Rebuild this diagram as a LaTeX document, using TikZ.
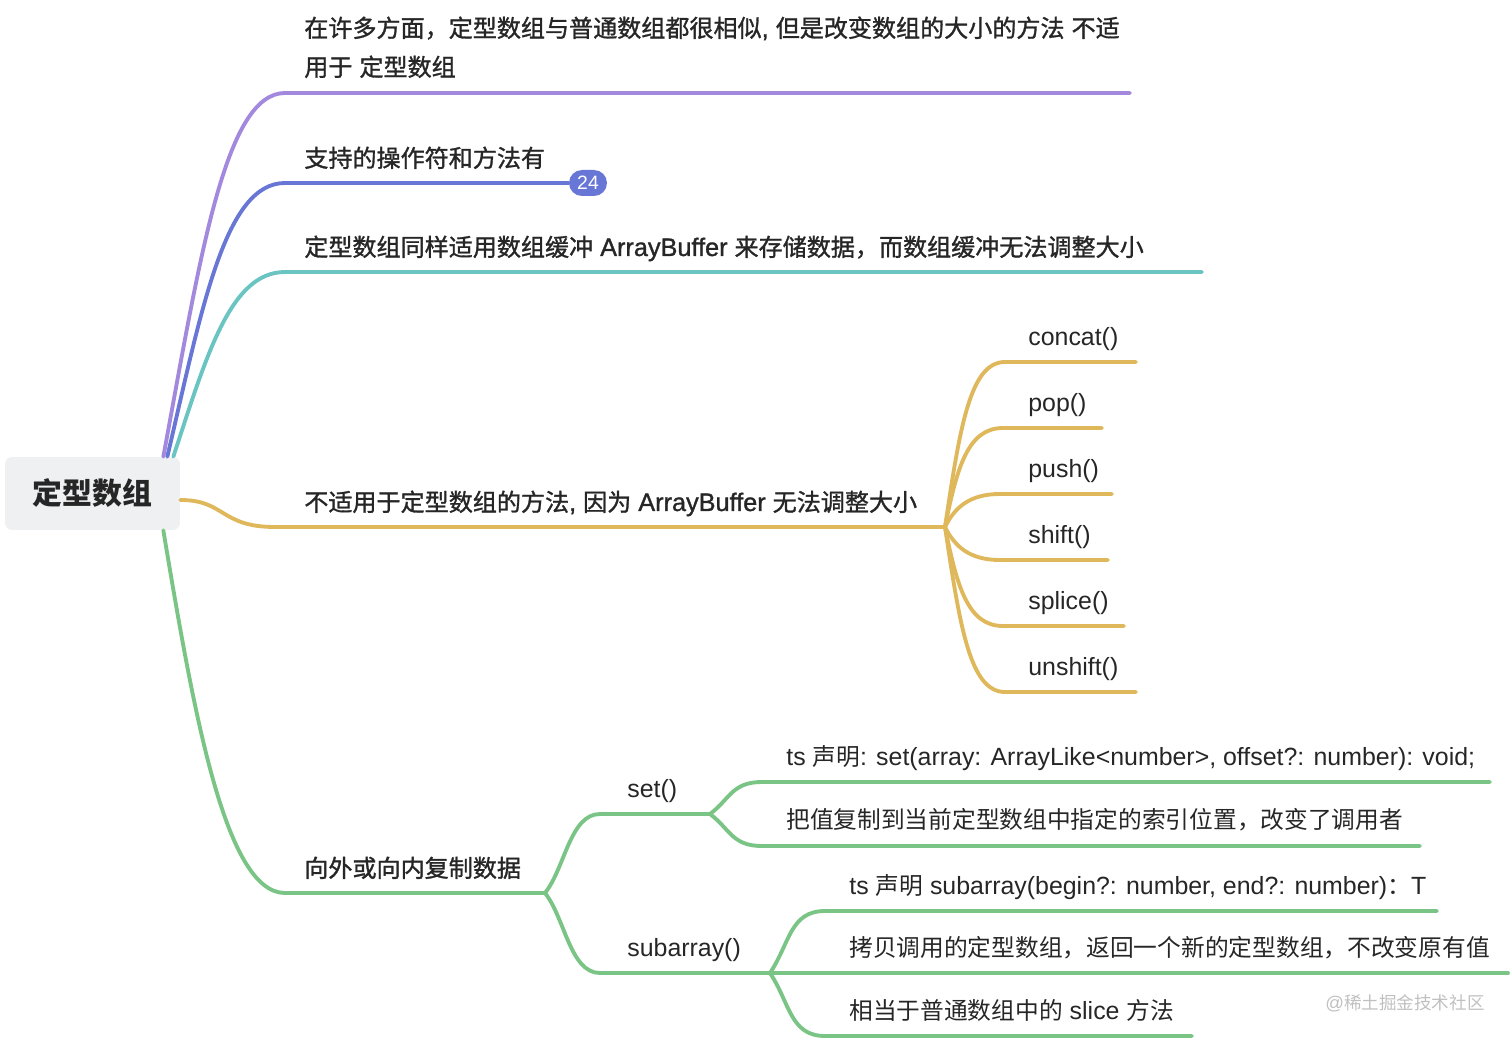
\documentclass[tikz,border=0pt]{standalone}
\usepackage{fontspec}
\setmainfont[Scale=1.05]{Liberation Sans}
\newfontfamily\cjk{Noto Sans CJK SC}
\newfontfamily\cjkmid[FakeBold=1.2]{Noto Sans CJK SC}
\newfontfamily\latmid[FakeBold=1.2,Scale=1.05]{Liberation Sans}
\usepackage{xcolor}
\usepackage{tikz}

\newcommand{\zh}[1]{{\cjk #1}}
\newcommand{\zhm}[1]{{\cjkmid #1}}

\definecolor{mmtext}{RGB}{38,38,38}
\definecolor{mmgray}{RGB}{238,240,241}
\definecolor{mmpurple}{RGB}{163,137,222}
\definecolor{mmblue}{RGB}{104,118,214}
\definecolor{mmteal}{RGB}{106,196,194}
\definecolor{mmgold}{RGB}{224,184,92}
\definecolor{mmgreen}{RGB}{122,196,134}
\definecolor{mmmark}{RGB}{192,192,192}

\begin{document}
\begin{tikzpicture}[x=0.02cm, y=-0.02cm,
  every node/.style={text=mmtext},
  root/.style={fill=mmgray, rounded corners=4pt, minimum width=3.5cm, minimum height=1.46cm,
    font=\cjk\bfseries\fontsize{17pt}{20pt}\selectfont},
  topic/.style={anchor=base west, inner sep=0pt, align=left,
    font=\latmid\fontsize{13.7pt}{22.2pt}\selectfont},
  leaf/.style={anchor=base west, inner sep=0pt, font=\fontsize{13.5pt}{16pt}\selectfont},
  link/.style={line width=2.2pt, line cap=round},
  badge/.style={fill=mmblue, text=white, rounded corners=0.26cm, minimum width=0.76cm,
    minimum height=0.52cm, inner sep=0pt, font=\fontsize{10.5pt}{12pt}\selectfont}]
  \useasboundingbox (0,0) rectangle (1512,1040);

  % Root
  \node[root] (root) at (92.5,493.5) {定型数组};

  % Topic 1 (two lines, base = last line)
  \coordinate (b1s) at (285,93);
  \coordinate (b1e) at (1130,93);
  \node[topic] (b1) at (304,76) {\zhm{在许多方面，定型数组与普通数组都很相似}, \zhm{但是改变数组的大小的方法} \zhm{不适}\\\zhm{用于} \zhm{定型数组}};
  \draw[link,mmpurple] ([xshift=-0.34cm]root.north east) .. controls +(37,-200) and +(-60,0) .. (b1s) -- (b1e);

  % Topic 2
  \coordinate (b2s) at (285,183);
  \node[badge] (cnt) at (588,183) {24};
  \node[topic] (b2) at (304,167) {\zhm{支持的操作符和方法有}};
  \draw[link,mmblue] ([xshift=-0.26cm]root.north east) .. controls +(35,-150) and +(-60,0) .. (b2s) -- (cnt.west);

  % Topic 3
  \coordinate (b3s) at (285,272);
  \coordinate (b3e) at (1202,272);
  \node[topic] (b3) at (304,256) {\zhm{定型数组同样适用数组缓冲} ArrayBuffer \zhm{来存储数据，而数组缓冲无法调整大小}};
  \draw[link,mmteal] ([xshift=-0.14cm]root.north east) .. controls +(33,-100) and +(-55,0) .. (b3s) -- (b3e);

  % Topic 4
  \coordinate (b4s) at (275,527);
  \coordinate (b4e) at (945,527);
  \node[topic] (b4) at (304,511) {\zhm{不适用于定型数组的方法}, \zhm{因为} ArrayBuffer \zhm{无法调整大小}};
  \draw[link,mmgold] ([yshift=-0.13cm]root.east) .. controls +(45,0) and +(-55,0) .. (b4s) -- (b4e);

  \coordinate (g1s) at (1005,362); \coordinate (g1e) at (1136,362);
  \coordinate (g2s) at (1003,428); \coordinate (g2e) at (1102,428);
  \coordinate (g3s) at (1000,494); \coordinate (g3e) at (1112,494);
  \coordinate (g4s) at (1000,560); \coordinate (g4e) at (1108,560);
  \coordinate (g5s) at (1003,626); \coordinate (g5e) at (1124,626);
  \coordinate (g6s) at (1005,692); \coordinate (g6e) at (1136,692);
  \node[leaf] (g1) at (1028,345.5) {concat()};
  \node[leaf] (g2) at (1028,411.5) {pop()};
  \node[leaf] (g3) at (1028,477.5) {push()};
  \node[leaf] (g4) at (1028,543.5) {shift()};
  \node[leaf] (g5) at (1028,609.5) {splice()};
  \node[leaf] (g6) at (1028,675.5) {unshift()};
  \draw[link,mmgold] (b4e) .. controls +(15,-100) and +(-35,0) .. (g1s) -- (g1e);
  \draw[link,mmgold] (b4e) .. controls +(12,-60) and +(-35,0) .. (g2s) -- (g2e);
  \draw[link,mmgold] (b4e) .. controls +(10,-20) and +(-30,0) .. (g3s) -- (g3e);
  \draw[link,mmgold] (b4e) .. controls +(10,20) and +(-30,0) .. (g4s) -- (g4e);
  \draw[link,mmgold] (b4e) .. controls +(12,60) and +(-35,0) .. (g5s) -- (g5e);
  \draw[link,mmgold] (b4e) .. controls +(15,100) and +(-35,0) .. (g6s) -- (g6e);

  % Topic 5
  \coordinate (b5s) at (285,893);
  \coordinate (b5e) at (545,893);
  \node[topic] (b5) at (304,877) {\zhm{向外或向内复制数据}};
  \draw[link,mmgreen] ([xshift=-0.34cm]root.south east) .. controls +(30,180) and +(-60,0) .. (b5s) -- (b5e);

  % set()
  \coordinate (s1s) at (600,814); \coordinate (s1e) at (710,814);
  \node[leaf] (s1) at (627,797.5) {set()};
  \draw[link,mmgreen] (b5e) .. controls +(20,-25) and +(-30,0) .. (s1s) -- (s1e);
  \coordinate (t1s) at (762,782); \coordinate (t1e) at (1490,782);
  \coordinate (t2s) at (762,846); \coordinate (t2e) at (1420,846);
  \node[leaf] (t1) at (786,765.5) {ts \zh{声明}: set(array: ArrayLike<number>, offset?: number): void;};
  \node[leaf] (t2) at (786,828.5) {\zh{把值复制到当前定型数组中指定的索引位置，改变了调用者}};
  \draw[link,mmgreen] (s1e) .. controls +(20,-15) and +(-30,0) .. (t1s) -- (t1e);
  \draw[link,mmgreen] (s1e) .. controls +(20,15) and +(-30,0) .. (t2s) -- (t2e);

  % subarray()
  \coordinate (s2s) at (600,973); \coordinate (s2e) at (770,973);
  \node[leaf] (s2) at (627,956.5) {subarray()};
  \draw[link,mmgreen] (b5e) .. controls +(20,25) and +(-30,0) .. (s2s) -- (s2e);
  \coordinate (u1s) at (825,911); \coordinate (u1e) at (1437,911);
  \coordinate (u2e) at (1508,973);
  \coordinate (u3s) at (825,1036); \coordinate (u3e) at (1192,1036);
  \node[leaf] (u1) at (849,894.5) {ts \zh{声明} subarray(begin?: number, end?: number)\zh{：}T};
  \node[leaf] (u2) at (849,956.5) {\zh{拷贝调用的定型数组，返回一个新的定型数组，不改变原有值}};
  \node[leaf] (u3) at (849,1019.5) {\zh{相当于普通数组中的} slice \zh{方法}};
  \draw[link,mmgreen] (s2e) .. controls +(20,-30) and +(-35,0) .. (u1s) -- (u1e);
  \draw[link,mmgreen] (s2e) -- (u2e);
  \draw[link,mmgreen] (s2e) .. controls +(20,30) and +(-35,0) .. (u3s) -- (u3e);

  % Watermark
  \node[anchor=base west, inner sep=0pt, text=mmmark, font=\fontsize{10pt}{12pt}\selectfont] (mark) at (1325,1009) {@\zh{稀土掘金技术社区}};
\end{tikzpicture}
\end{document}
